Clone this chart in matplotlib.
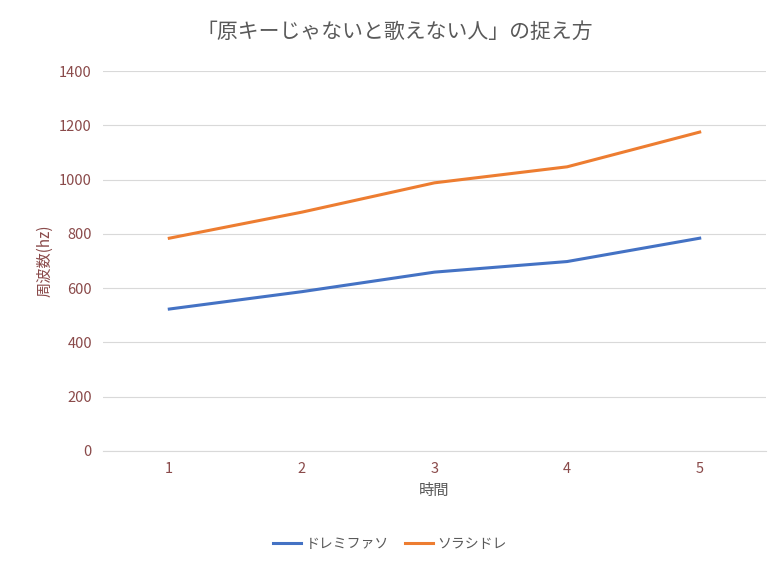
import matplotlib
matplotlib.use("Agg")
import matplotlib.pyplot as plt

plt.rcParams["font.family"] = "Noto Sans CJK JP"

times = [1, 2, 3, 4, 5]
doremi = [523, 587, 659, 698, 784]
sorashi = [784, 880, 988, 1047, 1175]
yticks = [0, 200, 400, 600, 800, 1000, 1200, 1400]

tick_color = "#8a4a4a"
fig = plt.figure(figsize=(7.8, 5.69), dpi=100)
ax = fig.add_axes([103 / 780, 1 - 451 / 569, 663 / 780, 380 / 569])

ax.plot(times, doremi, color="#4472c4", lw=2.2, label="ドレミファソ")
ax.plot(times, sorashi, color="#ed7d31", lw=2.2, label="ソラシドレ")

ax.set_xlim(0.5, 5.5)
ax.set_ylim(0, 1400)
ax.set_yticks(yticks)
ax.set_xticks(times)
ax.grid(axis="y", color="#d9d9d9", lw=0.8)
ax.set_axisbelow(True)
for s in ["top", "right", "left"]:
    ax.spines[s].set_visible(False)
ax.spines["bottom"].set_color("#d9d9d9")
ax.tick_params(length=0, colors=tick_color, labelsize=10.5, pad=8)
ax.set_xlabel("時間", color="#595959", fontsize=11)
ax.set_ylabel("周波数(hz)", color=tick_color, fontsize=11)
fig.text(0.506, 1 - 32 / 569, "「原キーじゃないと歌えない人」の捉え方",
         color="#595959", fontsize=15, ha="center", va="center")
fig.legend(loc="lower center", bbox_to_anchor=(0.5, 0.01), ncol=2, frameon=False,
           fontsize=10, labelcolor="#595959", handlelength=2, columnspacing=1.2,
           handletextpad=0.3)

fig.savefig("out.png", dpi=100)
